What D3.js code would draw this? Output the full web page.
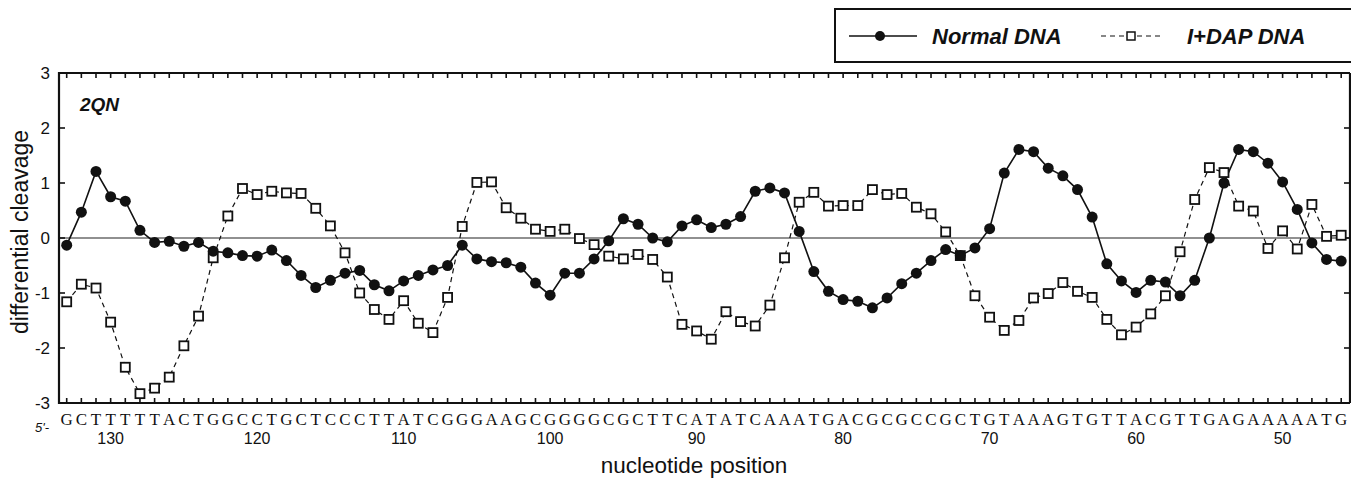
<!DOCTYPE html>
<html>
<head>
<meta charset="utf-8">
<script src="https://cdn.jsdelivr.net/npm/d3@7"></script>
<style>
  body { margin: 0; background: #fff; }
  svg { display: block; font-family: "Liberation Sans", Arial, sans-serif; }
</style>
</head>
<body>
<div id="chartDiv"></div>
<script>
'use strict';

// sequence read 5' -> 3', first base is position 133
const FIRST_POSITION = 133;
const sequence = "GCTTTTTACTGGCCTGCTCCCTTATCGGGAAGCGGGGCGCTTCATATCAAATGACGCGCCGCTGTAAAGTGTTACGTTGAGAAAAATG".split("");

const positionTicks = [130, 120, 110, 100, 90, 80, 70, 60, 50];
const valueTicks = [3, 2, 1, 0, -1, -2, -3];

// differential cleavage, position 133 down to 46
const normalDNA = [
  -0.13, 0.47, 1.21, 0.75, 0.67, 0.14, -0.08, -0.06, -0.15, -0.08,
  -0.24, -0.27, -0.32, -0.33, -0.22, -0.41, -0.68, -0.90, -0.77, -0.64,
  -0.59, -0.85, -0.96, -0.78, -0.68, -0.58, -0.50, -0.13, -0.38, -0.43,
  -0.45, -0.53, -0.82, -1.04, -0.64, -0.64, -0.38, -0.05, 0.35, 0.25,
  0.00, -0.07, 0.22, 0.33, 0.19, 0.25, 0.39, 0.85, 0.91, 0.82,
  0.12, -0.61, -0.97, -1.12, -1.15, -1.27, -1.09, -0.83, -0.64, -0.41,
  -0.21, -0.32, -0.18, 0.17, 1.18, 1.61, 1.57, 1.27, 1.13, 0.88,
  0.38, -0.47, -0.78, -0.99, -0.77, -0.80, -1.05, -0.77, 0.00, 1.00,
  1.61, 1.57, 1.36, 1.02, 0.52, -0.09, -0.39, -0.42
];

const idapDNA = [
  -1.16, -0.84, -0.91, -1.53, -2.35, -2.83, -2.73, -2.53, -1.96, -1.42,
  -0.36, 0.40, 0.90, 0.79, 0.85, 0.82, 0.81, 0.54, 0.22, -0.27,
  -1.00, -1.30, -1.48, -1.14, -1.55, -1.72, -1.08, 0.21, 1.01, 1.02,
  0.55, 0.36, 0.16, 0.12, 0.16, -0.01, -0.12, -0.33, -0.38, -0.30,
  -0.39, -0.71, -1.57, -1.69, -1.84, -1.34, -1.52, -1.60, -1.22, -0.36,
  0.65, 0.83, 0.58, 0.59, 0.59, 0.88, 0.79, 0.81, 0.56, 0.44,
  0.11, -0.32, -1.05, -1.44, -1.68, -1.50, -1.09, -1.01, -0.81, -0.97,
  -1.08, -1.48, -1.76, -1.62, -1.38, -1.05, -0.25, 0.70, 1.28, 1.19,
  0.58, 0.49, -0.19, 0.13, -0.20, 0.61, 0.03, 0.05
];

const seriesNames = ["Normal DNA", "I+DAP DNA"];

const W = 1351, H = 478;
const plot = { left: 59, right: 1350, top: 73, bottom: 403 };

const positions = sequence.map((s, i) => FIRST_POSITION - i);

const xScale = d3.scaleLinear()
    .domain([FIRST_POSITION, positions[positions.length - 1]])
    .range([66.7, 1341.2]);

const yScale = d3.scaleLinear()
    .domain([-3, 3])
    .range([plot.bottom, plot.top]);

const svg = d3.select("#chartDiv")
    .append("svg")
    .attr("width", W)
    .attr("height", H);

// zero line
svg.append("line")
    .attr("x1", plot.left).attr("x2", plot.right)
    .attr("y1", yScale(0)).attr("y2", yScale(0))
    .attr("stroke", "#222").attr("stroke-width", 1.2);

// frame
svg.append("path")
    .attr("d", `M${plot.left},${plot.top}H${plot.right}M${plot.left},${plot.bottom}H${plot.right}M${plot.left},${plot.top - 1}V${plot.bottom + 1}M${plot.right},${plot.top}V${plot.bottom}`)
    .attr("fill", "none").attr("stroke", "#111").attr("stroke-width", 2.2);

// nucleotide ticks, top (pointing down) and bottom (pointing up)
const tickG = svg.append("g").attr("stroke", "#111").attr("stroke-width", 1.6);
tickG.selectAll(".tt").data(positions).enter().append("line")
    .attr("x1", d => xScale(d)).attr("x2", d => xScale(d))
    .attr("y1", plot.top).attr("y2", plot.top + 5);
tickG.selectAll(".tb").data(positions).enter().append("line")
    .attr("x1", d => xScale(d)).attr("x2", d => xScale(d))
    .attr("y1", plot.bottom).attr("y2", plot.bottom - 5);

// value ticks, left and right
tickG.selectAll(".vl").data(valueTicks).enter().append("line")
    .attr("x1", plot.left).attr("x2", plot.left + 6)
    .attr("y1", d => yScale(d)).attr("y2", d => yScale(d));
tickG.selectAll(".vr").data(valueTicks).enter().append("line")
    .attr("x1", plot.right).attr("x2", plot.right - 6)
    .attr("y1", d => yScale(d)).attr("y2", d => yScale(d));

svg.append("g").selectAll("text").data(valueTicks).enter().append("text")
    .attr("x", plot.left - 9)
    .attr("y", d => yScale(d) + 6)
    .attr("text-anchor", "end")
    .attr("font-size", 17)
    .attr("fill", "#111")
    .text(d => d);

// sequence letters
svg.append("g").selectAll("text").data(sequence).enter().append("text")
    .attr("x", (d, i) => xScale(positions[i]))
    .attr("y", 425)
    .attr("text-anchor", "middle")
    .attr("font-family", "'Liberation Serif', 'DejaVu Serif', serif")
    .attr("font-size", 17)
    .attr("fill", "#111")
    .text(d => d);

svg.append("text")
    .attr("x", 35).attr("y", 432)
    .attr("font-size", 13).attr("font-style", "italic")
    .attr("fill", "#111")
    .text("5'-");

// position labels
svg.append("g").selectAll("text").data(positionTicks).enter().append("text")
    .attr("x", d => xScale(d))
    .attr("y", 444)
    .attr("text-anchor", "middle")
    .attr("font-size", 16)
    .attr("fill", "#111")
    .text(d => d);

svg.append("text")
    .attr("x", 694).attr("y", 473)
    .attr("text-anchor", "middle")
    .attr("font-size", 22.5)
    .attr("fill", "#111")
    .text("nucleotide position");

svg.append("text")
    .attr("transform", "translate(28,232) rotate(-90)")
    .attr("text-anchor", "middle")
    .attr("font-size", 23)
    .attr("fill", "#111")
    .text("differential cleavage");

svg.append("text")
    .attr("x", 80).attr("y", 111)
    .attr("font-size", 19).attr("font-weight", "bold").attr("font-style", "italic")
    .attr("fill", "#111")
    .text("2QN");

// series
const line = d3.line()
    .x((d, i) => xScale(positions[i]))
    .y(d => yScale(d));

svg.append("path")
    .datum(idapDNA)
    .attr("d", line)
    .attr("fill", "none").attr("stroke", "#111")
    .attr("stroke-width", 1.2).attr("stroke-dasharray", "5,4");

svg.append("path")
    .datum(normalDNA)
    .attr("d", line)
    .attr("fill", "none").attr("stroke", "#111")
    .attr("stroke-width", 1.6);

svg.append("g").selectAll("rect").data(idapDNA).enter().append("rect")
    .attr("x", (d, i) => xScale(positions[i]) - 4.5)
    .attr("y", d => yScale(d) - 4.5)
    .attr("width", 9).attr("height", 9)
    .attr("fill", "#fff").attr("stroke", "#111").attr("stroke-width", 1.8);

svg.append("g").selectAll("circle").data(normalDNA).enter().append("circle")
    .attr("cx", (d, i) => xScale(positions[i]))
    .attr("cy", d => yScale(d))
    .attr("r", 5.5)
    .attr("fill", "#111");

// legend
const legend = svg.append("g");
legend.append("rect")
    .attr("x", 835).attr("y", 9).attr("width", 530).attr("height", 53)
    .attr("fill", "#fff").attr("stroke", "#111").attr("stroke-width", 2);
legend.append("line")
    .attr("x1", 849).attr("x2", 917).attr("y1", 36).attr("y2", 36)
    .attr("stroke", "#111").attr("stroke-width", 1.6);
legend.append("circle")
    .attr("cx", 880).attr("cy", 36).attr("r", 5).attr("fill", "#111");
legend.append("line")
    .attr("x1", 1101).attr("x2", 1162).attr("y1", 36).attr("y2", 36)
    .attr("stroke", "#111").attr("stroke-width", 1.2).attr("stroke-dasharray", "5,4");
legend.append("rect")
    .attr("x", 1127).attr("y", 32).attr("width", 8).attr("height", 8)
    .attr("fill", "#fff").attr("stroke", "#111").attr("stroke-width", 1.5);
legend.selectAll(".lt").data(seriesNames).enter().append("text")
    .attr("x", (d, i) => i === 0 ? 932 : 1187)
    .attr("y", 44)
    .attr("font-size", 22).attr("font-weight", "bold").attr("font-style", "italic")
    .attr("fill", "#111")
    .text(d => d);
</script>
</body>
</html>
